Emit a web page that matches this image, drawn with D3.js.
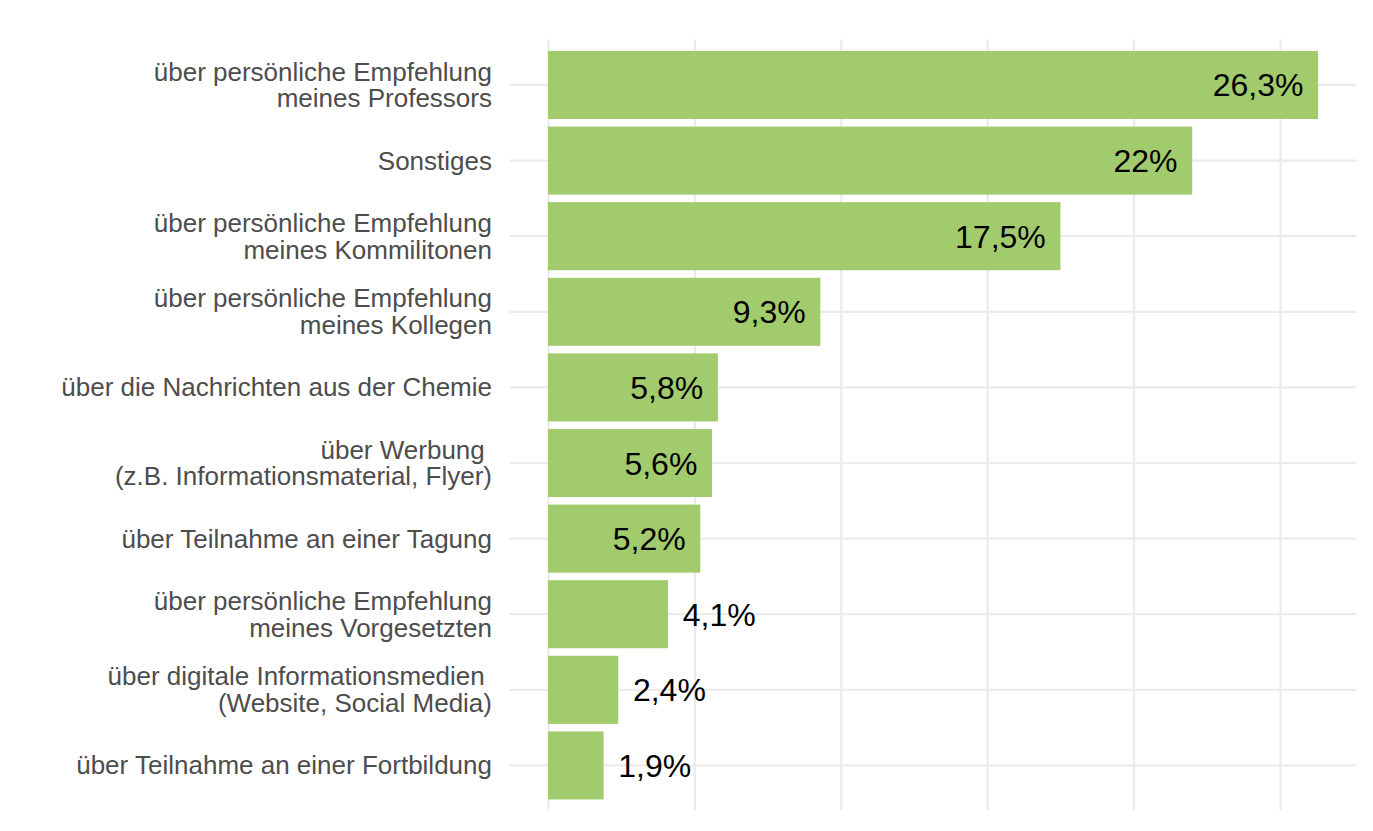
<!DOCTYPE html>
<html>
<head>
<meta charset="utf-8">
<script src="https://cdn.jsdelivr.net/npm/d3@7"></script>
<style>
  html, body { margin: 0; padding: 0; background: #fff; }
  svg { display: block; font-family: "Liberation Sans", Arial, sans-serif; }
</style>
</head>
<body>
<div class="viewer"></div>
<script>
'use strict';

// categories, top to bottom
var categories = [
  'über persönliche Empfehlung\nmeines Professors',
  'Sonstiges',
  'über persönliche Empfehlung\nmeines Kommilitonen',
  'über persönliche Empfehlung\nmeines Kollegen',
  'über die Nachrichten aus der Chemie',
  'über Werbung \n(z.B. Informationsmaterial, Flyer)',
  'über Teilnahme an einer Tagung',
  'über persönliche Empfehlung\nmeines Vorgesetzten',
  'über digitale Informationsmedien \n(Website, Social Media)',
  'über Teilnahme an einer Fortbildung'
];
var shares = [26.3, 22, 17.5, 9.3, 5.8, 5.6, 5.2, 4.1, 2.4, 1.9];
var gridTicks = [0, 5, 10, 15, 20, 25];

var width = 1373, height = 831;
var panel = { left: 509.5, right: 1356.6, top: 39.6, bottom: 810.8 };

var svg = d3.select('.viewer')
  .append('svg')
  .attr('width', width)
  .attr('height', height);

// ggplot-like 5% expansion of the value axis
var maxVal = d3.max(shares);
var x = d3.scaleLinear()
  .domain([-0.05 * maxVal, maxVal * 1.05])
  .range([panel.left, panel.right]);

var y = d3.scaleBand()
  .domain(categories)
  .range([panel.top, panel.bottom])
  .paddingInner(0.1)
  .paddingOuter(0.15);

var gridColor = '#ebebeb';

// vertical gridlines
svg.append('g')
  .attr('transform', 'translate(0,' + panel.bottom + ')')
  .call(d3.axisBottom(x).tickValues(gridTicks).tickSize(-(panel.bottom - panel.top)).tickFormat(''))
  .call(function (g) {
    g.select('.domain').remove();
    g.selectAll('line').attr('stroke', gridColor).attr('stroke-width', 2.2);
  });

// horizontal gridlines + category labels
var yAxis = svg.append('g')
  .attr('transform', 'translate(' + panel.left + ',0)')
  .call(d3.axisLeft(y).tickSize(-(panel.right - panel.left)).tickPadding(17.5).tickFormat(''))
  .call(function (g) {
    g.select('.domain').remove();
    g.selectAll('line').attr('stroke', gridColor).attr('stroke-width', 2.2);
  });

var lh = 26.7;
yAxis.selectAll('.tick text')
  .attr('fill', '#4d4d4d')
  .attr('font-size', 26)
  .attr('font-family', '"Liberation Sans", Arial, sans-serif')
  .style('white-space', 'pre')
  .attr('dy', null)
  .each(function (d) {
    var lines = d.split('\n');
    var t = d3.select(this);
    lines.forEach(function (line, i) {
      t.append('tspan')
        .attr('x', -17.5)
        .attr('y', 9 - (lines.length - 1) * lh / 2 + i * lh)
        .text(line);
    });
  });

// bars
var rows = categories.map(function (c, i) { return { cat: c, val: shares[i] }; });

svg.append('g')
  .selectAll('rect')
  .data(rows)
  .join('rect')
  .attr('x', x(0))
  .attr('y', function (d) { return y(d.cat); })
  .attr('width', function (d) { return x(d.val) - x(0); })
  .attr('height', y.bandwidth())
  .attr('fill', '#a2cb6e');

// value labels: inside for big bars, outside for small ones
var fmt = function (v) { return String(v).replace('.', ',') + '%'; };

svg.append('g')
  .selectAll('text')
  .data(rows)
  .join('text')
  .attr('x', function (d) { return d.val >= 5 ? x(d.val - 0.5) : x(d.val + 0.5); })
  .attr('y', function (d) { return y(d.cat) + y.bandwidth() / 2 + 11.5; })
  .attr('text-anchor', function (d) { return d.val >= 5 ? 'end' : 'start'; })
  .attr('font-size', 32)
  .attr('fill', '#000')
  .text(function (d) { return fmt(d.val); });
</script>
</body>
</html>
